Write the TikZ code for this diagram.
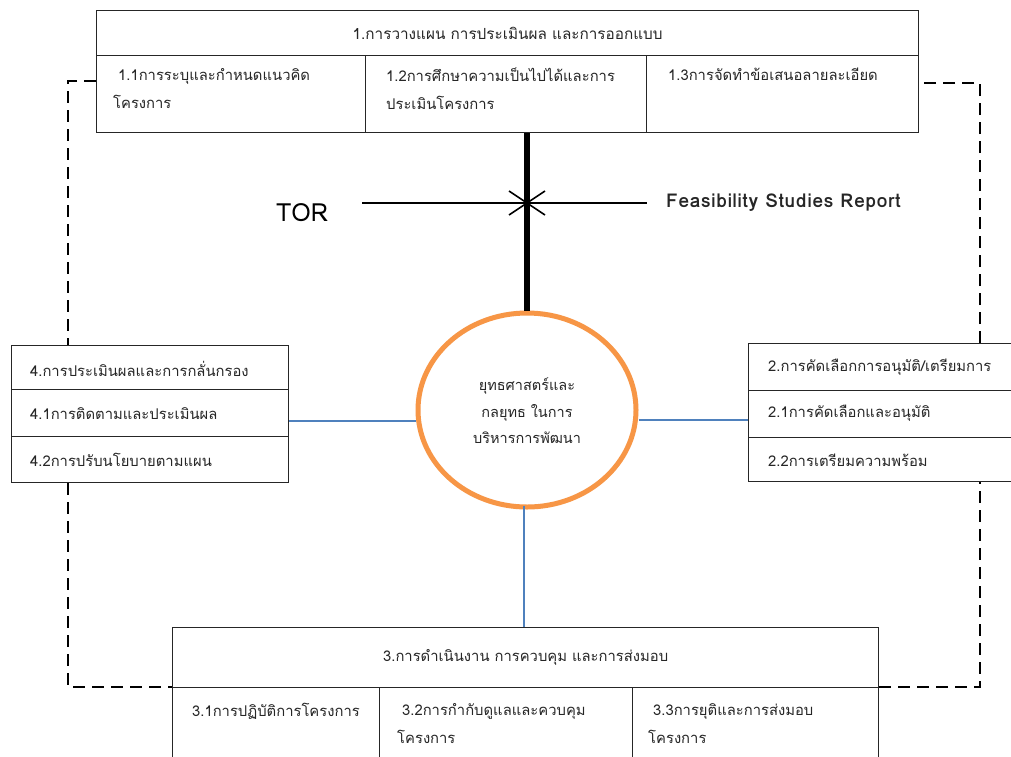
\documentclass[tikz,border=0pt]{standalone}
\usepackage{fontspec}
\newfontfamily\thai[Script=Thai]{Loma}
\newfontfamily\fsrfont[LetterSpace=4]{Loma}
\usetikzlibrary{shapes.geometric,calc}
\definecolor{orng}{HTML}{F79646}
\definecolor{blu}{HTML}{4F81BD}
\definecolor{txt}{HTML}{262626}
\begin{document}
\begin{tikzpicture}[x=1pt,y=-1pt,
  cell/.style={draw=black!85,line width=1.3pt,rectangle,inner sep=0pt,anchor=north west},
  lbl/.style={text=txt,font=\thai\fontsize{14.8}{28}\selectfont,inner sep=0pt,align=left},
  frame/.style={draw=black,line width=1.8pt,dash pattern=on 12pt off 7pt},
  link/.style={draw=blu,line width=1.4pt}]
\useasboundingbox[fill=white] (0,0) rectangle (1011,756);
% top box
\node[cell,minimum width=822pt,minimum height=122pt] (top) at (96,10) {};
\node[cell,minimum width=822pt,minimum height=45pt] (toph) at (96,10) {};
\node[cell,minimum width=269pt,minimum height=77pt] (c11) at (96,55) {};
\node[cell,minimum width=281pt,minimum height=77pt] (c12) at (365,55) {};
\node[cell,minimum width=272pt,minimum height=77pt] (c13) at (646,55) {};
\node[lbl,anchor=center,font=\thai\fontsize{15.3}{28}\selectfont] (t1) at (toph.center) {1.การวางแผน การประเมินผล และการออกแบบ};
\node[lbl,anchor=north west] (t11) at (113,68) {\ 1.1การระบุและกำหนดแนวคิด\\โครงการ};
\node[lbl,anchor=north west] (t12) at (386,68) {1.2การศึกษาความเป็นไปได้และการ\\ประเมินโครงการ};
\node[lbl,anchor=north west] (t13) at (668,68) {1.3การจัดทำข้อเสนอลายละเอียด};
% circle
\node[ellipse,draw=orng,line width=5pt,minimum width=218pt,minimum height=194pt,inner sep=0pt] (circ) at (527,410) {};
\node[lbl,align=center,anchor=center,font=\thai\fontsize{14.5}{26.5}\selectfont] (ct) at (527,411) {ยุทธศาสตร์และ\\กลยุทธ ในการ\\บริหารการพัฒนา};
% thick line
\draw[line width=6pt] (circ.north |- top.south) -- (circ.north);
% TOR line
\coordinate (h1) at (362,203);
\coordinate (h2) at (647,203);
\coordinate (hx) at (527,203);
\draw[line width=2.4pt] (h1) -- (h2);
\draw[line width=1.6pt] ($(hx)+(-18,-12)$) -- ($(hx)+(18,12)$);
\draw[line width=1.6pt] ($(hx)+(-18,12)$) -- ($(hx)+(18,-12)$);
\node[inner sep=0pt,font=\thai\fontsize{25}{30}\selectfont] (tor) at (302,213) {TOR};
\node[inner sep=0pt,anchor=west,font=\fsrfont\bfseries\fontsize{19}{22}\selectfont,text=txt] (fsr) at (666,203) {Feasibility Studies Report};
% left box
\node[cell,minimum width=277pt,minimum height=44pt] (l0) at (11,345) {};
\node[cell,minimum width=277pt,minimum height=47pt] (l1) at (11,389) {};
\node[cell,minimum width=277pt,minimum height=46pt] (l2) at (11,436) {};
\node[lbl,anchor=west] (tl0) at (30,369) {4.การประเมินผลและการกลั่นกรอง};
\node[lbl,anchor=west] (tl1) at (30,414) {4.1การติดตามและประเมินผล};
\node[lbl,anchor=west] (tl2) at (30,460) {4.2การปรับนโยบายตามแผน};
% right box
\node[cell,minimum width=270pt,minimum height=47pt] (r0) at (748,343) {};
\node[cell,minimum width=270pt,minimum height=47pt] (r1) at (748,390) {};
\node[cell,minimum width=270pt,minimum height=44pt] (r2) at (748,437) {};
\node[lbl,anchor=west] (tr0) at (768,367) {2.การคัดเลือกการอนุมัติ/เตรียมการ};
\node[lbl,anchor=west] (tr1) at (768,413) {2.1การคัดเลือกและอนุมัติ};
\node[lbl,anchor=west] (tr2) at (768,460) {2.2การเตรียมความพร้อม};
% bottom box
\node[cell,minimum width=706pt,minimum height=60pt] (b0) at (172,627) {};
\node[cell,minimum width=207pt,minimum height=80pt] (b1) at (172,687) {};
\node[cell,minimum width=253pt,minimum height=80pt] (b2) at (379,687) {};
\node[cell,minimum width=246pt,minimum height=80pt] (b3) at (632,687) {};
\node[lbl,anchor=center] (tb0) at (b0.center) {3.การดำเนินงาน การควบคุม และการส่งมอบ};
\node[lbl,anchor=north west] (tb1) at (192,703) {3.1การปฏิบัติการโครงการ};
\node[lbl,anchor=north west] (tb2) at (397,703) {\ 3.2การกำกับดูแลและควบคุม\\โครงการ};
\node[lbl,anchor=north west] (tb3) at (648,703) {\ 3.3การยุติและการส่งมอบ\\โครงการ};
% blue links
\draw[link] (l1.east |- 0,421) -- (circ.west |- 0,421);
\draw[link] (circ.east |- 0,420) -- (r1.west |- 0,420);
\draw[link] (524,506) -- (b0.north -| 524,0);
% dashed frame
\coordinate (ftl) at (68,81);
\coordinate (ftr) at (980,83);
\coordinate (fbl) at (68,687);
\coordinate (fbr) at (980,687);
\draw[frame] (top.west |- ftl) -- (ftl) -- (ftl |- l0.north);
\draw[frame] (ftl |- l2.south) -- (fbl) -- (fbl -| b0.west);
\draw[frame] (fbr -| b0.east) -- (fbr) -- (fbr |- r2.south);
\draw[frame] (ftr |- r0.north) -- (ftr) -- (ftr -| top.east);
\end{tikzpicture}
\end{document}
